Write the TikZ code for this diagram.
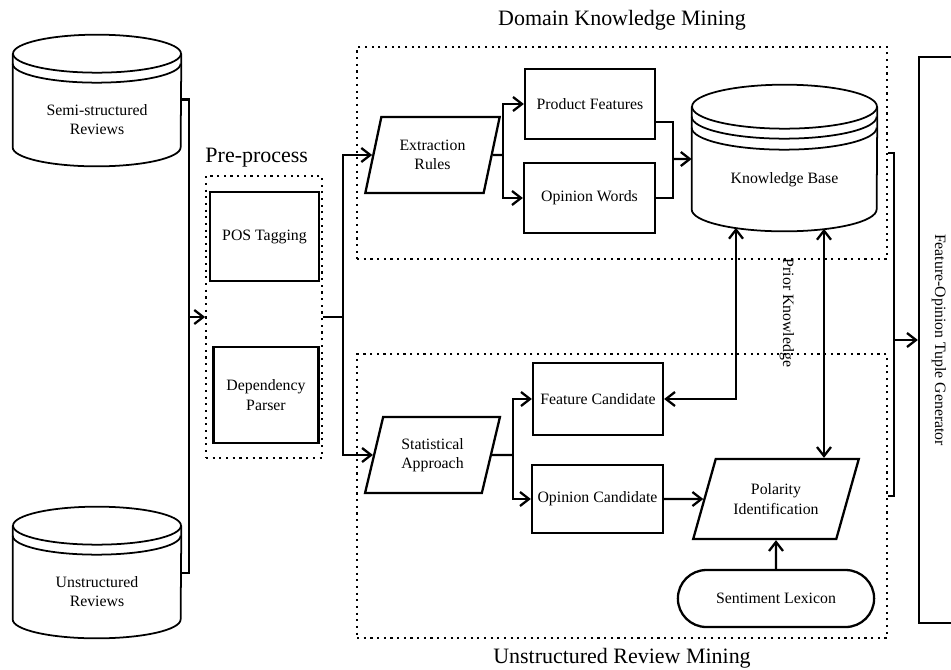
\documentclass[tikz,border=0pt]{standalone}
\usepackage{fontspec}
\setmainfont{Liberation Serif}
\usetikzlibrary{arrows.meta, positioning, shapes.geometric, shapes.misc}

% Cilindro (base de datos) alrededor de un nodo: #1 nodo, #2 radio x, #3 radio y, #4 desplazamientos de los arcos extra
\newcommand{\drawdb}[4]{%
    \draw[db line] ([yshift=#3]#1.north) ellipse[x radius=#2, y radius=#3];
    \draw[db line] ([yshift=#3]#1.north west) -- ([yshift=#3]#1.south west)
        arc[start angle=180, end angle=360, x radius=#2, y radius=#3]
        -- ([yshift=#3]#1.north east);
    \foreach \g in {#4} {
        \draw[db line] ([yshift=#3-\g]#1.north west)
            arc[start angle=180, end angle=360, x radius=#2, y radius=#3];
    }
}

\begin{document}
\begin{tikzpicture}[
    x=0.02cm, y=-0.02cm,
    % Definición de estilos
    every node/.append style={font=\fontsize{9}{11}\selectfont},
    proc/.style={rectangle, draw, line width=1.3pt, align=center, inner sep=2pt},
    io/.style={trapezium, trapezium left angle=72, trapezium right angle=108, trapezium stretches=true,
               draw, line width=1.3pt, align=center, inner sep=1pt},
    db/.style={rectangle, align=center, minimum width=3.36cm, minimum height=1.86cm}, % cuerpo del cilindro
    db line/.style={line width=1pt},
    group/.style={rectangle, draw, line width=1pt, dash pattern=on 1.2pt off 2.6pt}, % bloques punteados
    link/.style={line width=1.3pt},
    flow/.style={link, -{Straight Barb[length=1.8mm, width=2.8mm]}},
    twoway/.style={link, {Straight Barb[length=1.8mm, width=2.8mm]}-{Straight Barb[length=1.8mm, width=2.8mm]}},
    title/.style={font=\fontsize{12.5}{15}\selectfont, inner sep=0pt}
]
    \useasboundingbox (0,0) rectangle (951,670);
    \clip (0,0) rectangle (951,670);

    % =========================================================================
    % 1. Fuentes de datos (reseñas)
    % =========================================================================
    \node[db] (semi) at (97,119.5) {Semi-structured\\Reviews};
    \node[db] (unst) at (97,591.5) {Unstructured\\Reviews};
    \drawdb{semi}{1.68cm}{0.38cm}{0.2cm}
    \drawdb{unst}{1.68cm}{0.38cm}{0.2cm}

    % =========================================================================
    % 2. Bloques punteados y sus títulos
    % =========================================================================
    \node[group, minimum width=2.32cm, minimum height=5.64cm] (pre) at (264,317) {};
    \node[group, minimum width=10.6cm, minimum height=4.24cm] (dkm) at (622,153) {};
    \node[group, minimum width=10.6cm, minimum height=5.68cm] (urm) at (622,496) {};

    \node[title, above=0.16cm of pre.north west, anchor=south west] (pretitle) {Pre-process};
    \node[title, above=0.32cm of dkm] (dkmtitle) {Domain Knowledge Mining};
    \node[title, below=0.18cm of urm] (urmtitle) {Unstructured Review Mining};

    % =========================================================================
    % 3. Pre-proceso
    % =========================================================================
    \node[proc, minimum width=2.18cm, minimum height=1.78cm] (pos) at (264.5,236.5) {POS Tagging};
    \node[proc, minimum width=2.1cm, minimum height=1.92cm] (dep) at (266,395) {Dependency\\Parser};

    % =========================================================================
    % 4. Minería de conocimiento del dominio
    % =========================================================================
    \node[io, minimum width=2.7cm, minimum height=1.52cm] (er) at (432.5,155) {Extraction\\Rules};
    \node[proc, minimum width=2.6cm, minimum height=1.4cm] (pf) at (590,104) {Product Features};
    \node[proc, minimum width=2.62cm, minimum height=1.4cm] (ow) at (589.5,198) {Opinion Words};
    \node[db, minimum width=3.7cm, minimum height=2.04cm] (kb) at (784.5,180) {Knowledge Base};
    \drawdb{kb}{1.85cm}{0.44cm}{0.2cm,0.42cm}

    % =========================================================================
    % 5. Minería de reseñas no estructuradas
    % =========================================================================
    \node[io, minimum width=2.7cm, minimum height=1.52cm] (sa) at (432.5,455) {Statistical\\Approach};
    \node[proc, minimum width=2.6cm, minimum height=1.44cm] (fc) at (598,399) {Feature Candidate};
    \node[proc, minimum width=2.62cm, minimum height=1.36cm] (oc) at (597.5,499) {Opinion Candidate};
    \node[io, trapezium left angle=64, trapezium right angle=116,
          minimum width=3.32cm, minimum height=1.6cm] (pol) at (776,499) {Polarity\\Identification};
    \node[rounded rectangle, draw, line width=1.3pt, minimum width=4.16cm, minimum height=1.14cm] (sl) at (776,598.5) {Sentiment Lexicon};

    % Generador de tuplas (a la derecha, cortado por el borde)
    \node[proc, rotate=-90, minimum width=11.32cm, minimum height=0.8cm] (gen) at (939,340) {Feature-Opinion Tuple Generator};

    % =========================================================================
    % 6. Conexiones
    % =========================================================================
    \coordinate (jn1) at (189,317);
    \coordinate (jn2) at (343,317);
    \coordinate (jn3) at (503,155);
    \coordinate (jn4) at (673,159);
    \coordinate (jn5) at (513,455);
    \coordinate (jn6) at (894,340);

    % Reseñas -> pre-proceso
    \draw[link] ([yshift=0.4cm]semi.east) -| (jn1);
    \draw[link] ([yshift=0.37cm]unst.east) -| (jn1);
    \draw[flow] (jn1) -- (pre);

    % Pre-proceso -> reglas / enfoque estadístico
    \draw[link] (pre) -- (jn2);
    \draw[flow] (jn2) |- (er);
    \draw[flow] (jn2) |- (sa);

    % Reglas -> rasgos y palabras de opinión -> base de conocimiento
    \draw[link] (er) -- (jn3);
    \draw[flow] (jn3) |- (pf);
    \draw[flow] (jn3) |- (ow);
    \draw[link] ([yshift=-0.36cm]pf.east) -| (jn4);
    \draw[link] (ow.east) -| (jn4);
    \draw[flow] (jn4) -- ([yshift=0.42cm]kb.west);

    % Enfoque estadístico -> candidatos -> polaridad
    \draw[link] (sa) -- (jn5);
    \draw[flow] (jn5) |- (fc);
    \draw[flow] (jn5) |- (oc);
    \draw[flow] (oc) -- (pol);
    \draw[flow] (sl) -- (pol);

    % Conocimiento previo (doble sentido)
    \coordinate (pk1) at ([xshift=-0.97cm, yshift=0.07cm]kb.south);
    \coordinate (pk2) at ([xshift=0.79cm, yshift=0.05cm]kb.south);
    \draw[twoway] (pk1) |- (fc);
    \draw[twoway] (pk2) -- (pk2 |- pol.north);
    \node[rotate=-90] (pk) at (787,313) {Prior Knowledge};

    % Ambos bloques -> generador de tuplas
    \draw[link] (dkm.east) -| (jn6);
    \draw[link] (urm.east) -| (jn6);
    \draw[flow] (jn6) -- (gen);

\end{tikzpicture}
\end{document}
